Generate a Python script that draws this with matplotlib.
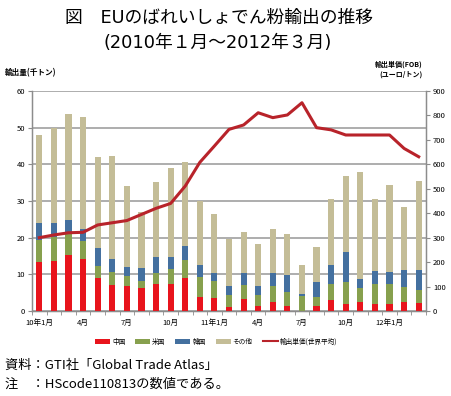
import matplotlib
matplotlib.use("Agg")
import matplotlib.pyplot as plt
import numpy as np
from matplotlib.patches import Patch
from matplotlib.lines import Line2D

plt.rcParams['font.family'] = ['Noto Sans CJK JP', 'DejaVu Sans']

months = ["10年1月", "", "", "4月", "", "", "7月", "", "", "10月", "", "",
          "11年1月", "", "", "4月", "", "", "7月", "", "", "10月", "", "",
          "12年1月", "", ""]

china = [13.5, 13.7, 15.4, 14.3, 9.1, 7.1, 6.8, 6.2, 7.4, 7.4, 9.1, 3.8, 3.5, 1.1,
         3.4, 1.5, 2.5, 1.3, 0.0, 1.5, 2.9, 1.8, 2.5, 1.9, 1.9, 2.5, 2.2]
usa = [6.0, 6.5, 5.8, 4.8, 3.2, 3.6, 2.8, 2.0, 2.9, 4.1, 4.8, 5.4, 4.7, 3.3,
       3.7, 2.9, 4.3, 3.9, 4.2, 2.3, 4.4, 6.0, 3.9, 5.6, 5.5, 4.0, 3.6]
korea = [4.4, 3.8, 3.6, 3.4, 5.0, 3.5, 2.4, 3.6, 4.5, 3.1, 3.9, 3.3, 2.2, 2.4,
         3.2, 2.3, 3.6, 4.6, 0.5, 4.0, 5.2, 8.2, 2.3, 3.3, 3.3, 4.6, 5.3]
other = [24.0, 26.0, 29.0, 30.3, 24.8, 28.1, 22.0, 15.3, 20.3, 24.3, 22.9, 17.5, 16.0, 12.8,
         11.2, 11.6, 11.9, 11.2, 7.8, 9.7, 18.0, 20.8, 29.2, 19.7, 23.7, 17.3, 24.4]
price = [300, 311, 320, 322, 352, 361, 370, 395, 420, 440, 511, 608, 675, 743,
         761, 811, 791, 802, 852, 750, 741, 720, 720, 720, 720, 665, 631]

labels = ["中国", "米国", "韓国", "その他", "輸出単価(世界平均)"]
colors = ["#E8141C", "#87A04E", "#44709F", "#C4BD97"]
line_color = "#B8232A"

fig = plt.figure(figsize=(4.51, 3.96), dpi=100)
ax = fig.add_axes([32/451, 1-311/396, (426-32)/451, (311-91)/396])
x = np.arange(len(china))
w = 0.42
bottom = np.zeros(len(x))
for vals, c in zip([china, usa, korea, other], colors):
    ax.bar(x, vals, w, bottom=bottom, color=c, zorder=3, linewidth=0)
    bottom += np.array(vals)

ax.set_xlim(-0.5, len(x) - 0.5)
ax.set_ylim(0, 60)
ax.set_yticks(range(0, 61, 10))
ax.yaxis.grid(True, color="#A0A0A0", linewidth=1.2, zorder=0)
ax.set_axisbelow(True)
ax.spines["top"].set_visible(False)
for s in ["left", "bottom", "right"]:
    ax.spines[s].set_color("#8C8C8C")
    ax.spines[s].set_linewidth(1.0)
ax.set_xticks(x)
ax.set_xticklabels(months, fontsize=5.5)
ax.tick_params(axis="x", length=0, pad=6)
ax.set_xticks(np.arange(-0.5, len(x), 1), minor=True)
ax.tick_params(axis="x", which="minor", length=3, color="#8C8C8C")
ax.tick_params(axis="y", labelsize=5.5, length=3, color="#8C8C8C", pad=2)

ax2 = ax.twinx()
ax2.set_ylim(0, 900)
ax2.set_yticks(range(0, 901, 100))
ax2.plot(x, price, color=line_color, linewidth=2.2, zorder=5)
ax2.tick_params(axis="y", labelsize=5.5, length=3, color="#8C8C8C", pad=2)
ax2.spines["top"].set_visible(False)
for s in ["left", "bottom", "right"]:
    ax2.spines[s].set_color("#8C8C8C")

title_fam = ['DejaVu Sans', 'Noto Sans CJK JP']
fig.text(219/451, 1-18/396, "図　EUのばれいしょでん粉輸出の推移", ha="center", va="center",
         fontsize=12.8, family=title_fam)
fig.text(218/451, 1-43/396, "(2010年１月～2012年３月)", ha="center", va="center",
         fontsize=12.8, family=title_fam)
fig.text(5/451, 1-73/396, "輸出量(千トン)", ha="left", va="center", fontsize=5.5, fontweight="bold")
fig.text(423/451, 1-64/396, "輸出単価(FOB)", ha="right", va="center", fontsize=5, fontweight="bold")
fig.text(423/451, 1-74/396, "(ユーロ/トン)", ha="right", va="center", fontsize=5, fontweight="bold")

handles = [Patch(facecolor=c, edgecolor="none") for c in colors] + \
          [Line2D([0], [0], color=line_color, linewidth=1.5)]
fig.legend(handles, labels, loc="center", bbox_to_anchor=(216/451, 1-342/396), ncol=5,
           frameon=False, fontsize=4.8, handlelength=2.25, handleheight=0.9,
           columnspacing=1.5, handletextpad=0.3)

fig.text(5/451, 1-365/396, "資料：GTI社「Global Trade Atlas」", ha="left", va="center", fontsize=9.5)
fig.text(5/451, 1-384/396, "注　：HScode110813の数値である。", ha="left", va="center", fontsize=9.5)

fig.savefig("out.png", dpi=100)
